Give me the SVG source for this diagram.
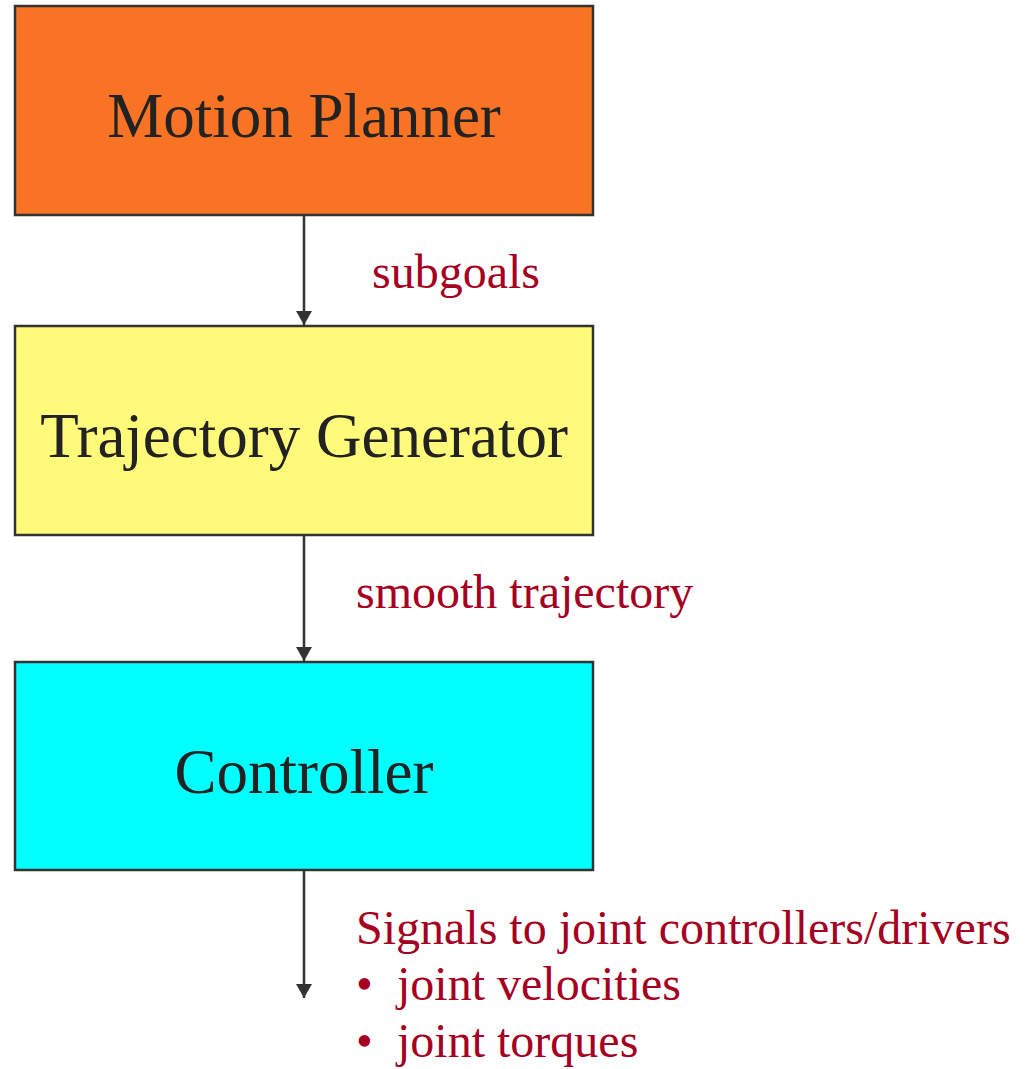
<svg xmlns="http://www.w3.org/2000/svg" width="1030" height="1069" viewBox="0 0 1030 1069">
<defs>
<style>
.box{stroke:#333333;stroke-width:2.5}
.title{font-family:"Liberation Serif","Times New Roman",serif;font-size:63px;fill:#222222;text-anchor:middle}
.lbl{font-family:"Liberation Serif","Times New Roman",serif;font-size:48px;fill:#A50021}
.conn{stroke:#333333;stroke-width:2.5;fill:none}
</style>
<marker id="arr" viewBox="0 0 14 16" markerWidth="14" markerHeight="16" refX="14" refY="8" orient="auto" markerUnits="userSpaceOnUse">
<path d="M0,0 L14,8 L0,16 Z" fill="#333333"/>
</marker>
</defs>
<rect width="1030" height="1069" fill="#ffffff"/>
<g id="motion-planner">
<rect class="box" x="15" y="6" width="578" height="209" fill="#F87424"/>
<text class="title" x="304" y="137">Motion Planner</text>
</g>
<g id="trajectory-generator">
<rect class="box" x="15" y="326" width="578" height="209" fill="#FFFA7A"/>
<text class="title" x="304" y="457">Trajectory Generator</text>
</g>
<g id="controller">
<rect class="box" x="15" y="662" width="578" height="208" fill="#00FFFF"/>
<text class="title" x="304" y="793">Controller</text>
</g>
<g id="connectors">
<line class="conn" x1="304" y1="215" x2="304" y2="325" marker-end="url(#arr)"/>
<line class="conn" x1="304" y1="535" x2="304" y2="661" marker-end="url(#arr)"/>
<line class="conn" x1="304" y1="870" x2="304" y2="998" marker-end="url(#arr)"/>
</g>
<g id="labels">
<text class="lbl" x="372" y="288">subgoals</text>
<text class="lbl" x="356" y="608">smooth trajectory</text>
<text class="lbl" x="356" y="944">Signals to joint controllers/drivers</text>
<text class="lbl" x="356" y="1000">•<tspan x="397">joint velocities</tspan></text>
<text class="lbl" x="356" y="1057">•<tspan x="397">joint torques</tspan></text>
</g>
</svg>
